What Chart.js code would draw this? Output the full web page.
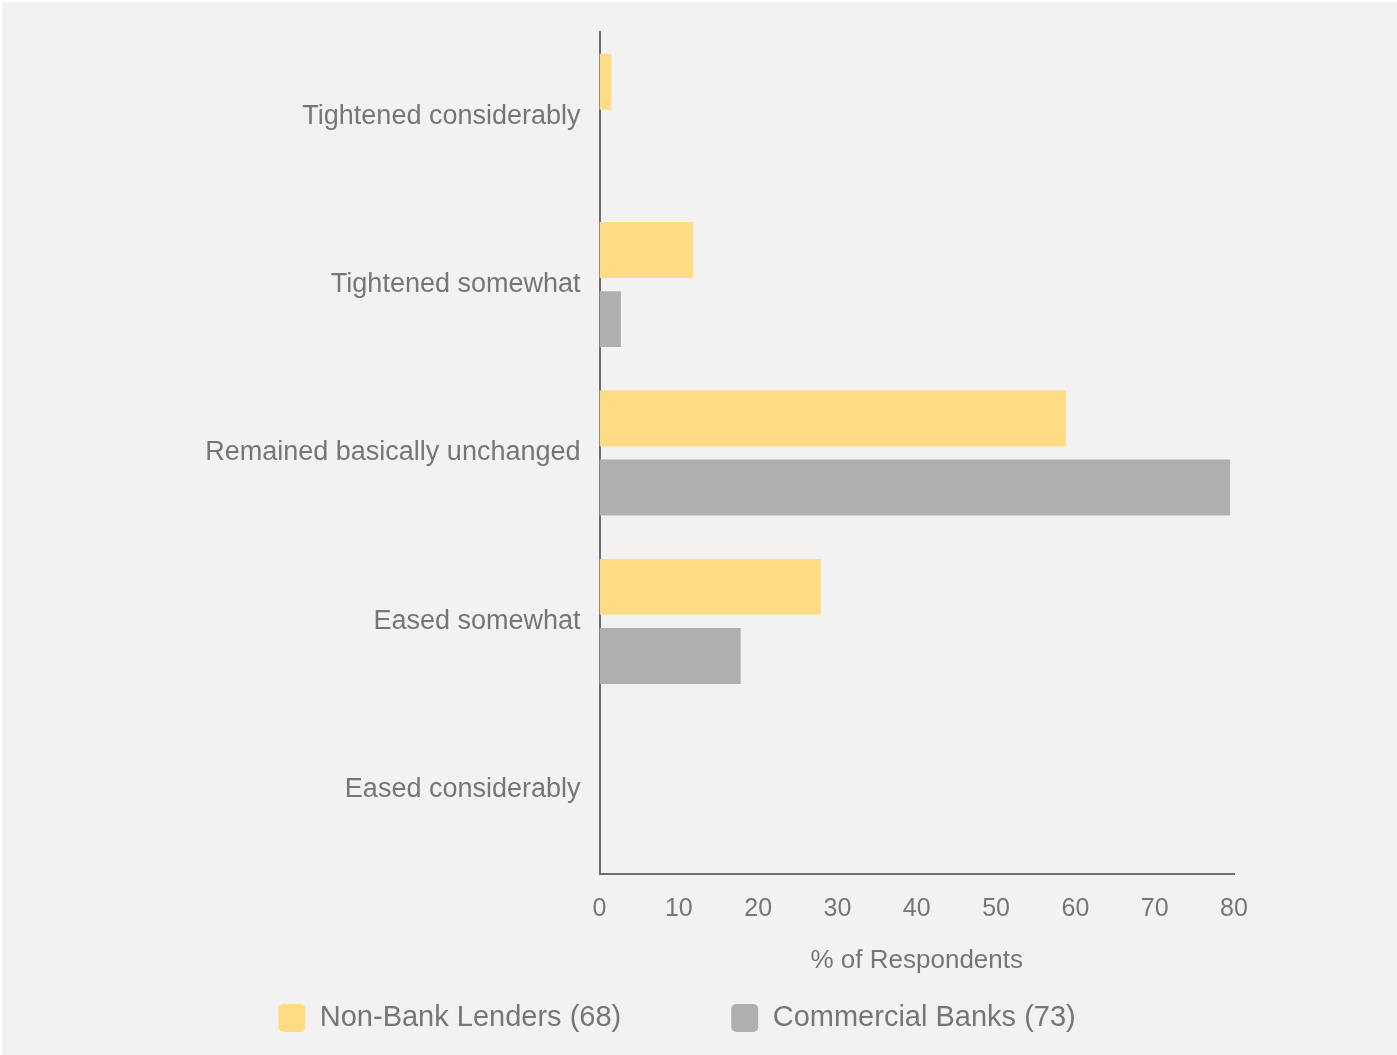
<!DOCTYPE html>
<html>
<head>
<meta charset="utf-8">
<script src="https://cdn.jsdelivr.net/npm/chart.js@4/dist/chart.umd.min.js"></script>
<style>
  html, body { margin: 0; padding: 0; background: #ffffff; }
  #wrap { position: absolute; left: 2px; top: 2px; width: 1395px; height: 1053px; background: #f2f2f2; }
  canvas { display: block; }
</style>
</head>
<body>
<div id="wrap"><canvas id="chart" width="1395" height="1053"></canvas></div>
<script>
// Survey answers, top to bottom
const categories = [
  'Tightened considerably',
  'Tightened somewhat',
  'Remained basically unchanged',
  'Eased somewhat',
  'Eased considerably'
];

// % of respondents per answer
const nonBankValues = [1.5, 11.8, 58.8, 27.9, 0];
const bankValues = [0, 2.7, 79.5, 17.8, 0];

const seriesNames = ['Non-Bank Lenders (68)', 'Commercial Banks (73)'];
const xTicks = [0, 10, 20, 30, 40, 50, 60, 70, 80];

const TEXT = '#767676';
const AXIS = '#6e6e6e';
const FONT = "'Liberation Sans', Arial, sans-serif";

// legend padding also spaces the items apart, so it pushes the row down;
// lift the legend back up once the layout is done (and widen its clip box)
const legendLift = {
  id: 'legendLift',
  afterLayout(chart) {
    const lg = chart.legend;
    if (!lg) return;
    lg.top = 1016 - 14.5 - lg.options.labels.padding;
    lg.bottom = chart.height;
    lg.height = lg.bottom - lg.top;
  }
};

const ctx = document.getElementById('chart');
const chart = new Chart(ctx, {
  type: 'bar',
  data: {
    labels: categories,
    datasets: [
      {
        label: seriesNames[0],
        data: nonBankValues,
        backgroundColor: '#ffdb84',
        borderWidth: 0
      },
      {
        label: seriesNames[1],
        data: bankValues,
        backgroundColor: '#afafaf',
        borderWidth: 0
      }
    ]
  },
  plugins: [legendLift],
  options: {
    indexAxis: 'y',
    responsive: false,
    animation: false,
    devicePixelRatio: 1,
    categoryPercentage: 0.82,
    barPercentage: 0.81,
    layout: {
      padding: { top: 30, left: 118, right: 163, bottom: 0 }
    },
    scales: {
      x: {
        min: 0,
        max: 80,
        afterBuildTicks(scale) {
          scale.ticks = xTicks.map(v => ({ value: v }));
        },
        afterFit(scale) {
          scale.height = 121;
        },
        grid: { display: false, drawTicks: false },
        border: { display: true, color: AXIS, width: 2 },
        ticks: {
          color: TEXT,
          padding: 20,
          maxRotation: 0,
          font: { family: FONT, size: 25 }
        },
        title: {
          display: true,
          text: '% of Respondents',
          color: TEXT,
          padding: { top: 0, bottom: 19 },
          font: { family: FONT, size: 26 }
        }
      },
      y: {
        afterFit(scale) {
          scale.width = 479.5;
          // labels sit mid-band, no need to reserve room above/below
          scale.paddingTop = 0;
          scale.paddingBottom = 0;
        },
        grid: { display: false, drawTicks: false },
        border: { display: true, color: AXIS, width: 2 },
        ticks: {
          color: TEXT,
          padding: 19,
          font: { family: FONT, size: 27 }
        }
      }
    },
    plugins: {
      legend: {
        position: 'bottom',
        maxHeight: 60,
        labels: {
          color: TEXT,
          boxWidth: 27,
          boxHeight: 28,
          useBorderRadius: true,
          borderRadius: 5,
          padding: 110,
          font: { family: FONT, size: 29 }
        }
      },
      tooltip: { enabled: false }
    }
  }
});
</script>
</body>
</html>
